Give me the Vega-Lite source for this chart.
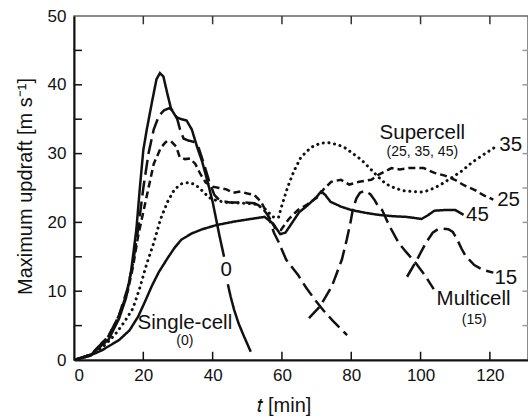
{
  "$schema": "https://vega.github.io/schema/vega-lite/v6.json",
  "width": 454,
  "height": 344,
  "autosize": {"type": "none"},
  "padding": {"left": 74, "top": 16, "right": 0, "bottom": 59},
  "background": "white",
  "config": {
    "view": {"stroke": "#666", "strokeWidth": 1.5},
    "font": "Liberation Sans",
    "axis": {"labelFont": "Liberation Sans", "titleFont": "Liberation Sans", "labelColor": "#111", "titleColor": "#111", "grid": false, "ticks": false, "domainColor": "#111"}
  },
  "datasets": {
    "curves": [
      {"series":"0","seg":"0a","t":0,"v":0},{"series":"0","seg":"0a","t":5,"v":0.8},{"series":"0","seg":"0a","t":10,"v":3},{"series":"0","seg":"0a","t":13,"v":6},{"series":"0","seg":"0a","t":15,"v":9},{"series":"0","seg":"0a","t":16.5,"v":13},{"series":"0","seg":"0a","t":18,"v":19},{"series":"0","seg":"0a","t":19,"v":25},{"series":"0","seg":"0a","t":20,"v":30.5},{"series":"0","seg":"0a","t":21,"v":33.5},{"series":"0","seg":"0a","t":22.5,"v":37.5},{"series":"0","seg":"0a","t":23.8,"v":40.8},{"series":"0","seg":"0a","t":24.8,"v":41.7},{"series":"0","seg":"0a","t":25.8,"v":41.2},{"series":"0","seg":"0a","t":26.8,"v":39},{"series":"0","seg":"0a","t":28,"v":36.5},{"series":"0","seg":"0a","t":29.5,"v":35.3},{"series":"0","seg":"0a","t":31,"v":35},{"series":"0","seg":"0a","t":32.5,"v":34.8},{"series":"0","seg":"0a","t":34,"v":33.5},{"series":"0","seg":"0a","t":35.5,"v":31},{"series":"0","seg":"0a","t":37,"v":28.8},{"series":"0","seg":"0a","t":38.5,"v":26},{"series":"0","seg":"0a","t":40,"v":23},{"series":"0","seg":"0a","t":40.8,"v":21},{"series":"0","seg":"0a","t":42,"v":18},{"series":"0","seg":"0a","t":43.3,"v":15},
      {"series":"0","seg":"0b","t":44.4,"v":11},{"series":"0","seg":"0b","t":45.2,"v":9.2},{"series":"0","seg":"0b","t":46.2,"v":7.3},{"series":"0","seg":"0b","t":47.5,"v":5.3},{"series":"0","seg":"0b","t":49,"v":3.5},{"series":"0","seg":"0b","t":51,"v":1.2},
      {"series":"15","seg":"15a","t":0,"v":0},{"series":"15","seg":"15a","t":5,"v":0.8},{"series":"15","seg":"15a","t":10,"v":3.5},{"series":"15","seg":"15a","t":13,"v":6.5},{"series":"15","seg":"15a","t":15.5,"v":10.5},{"series":"15","seg":"15a","t":17,"v":14},{"series":"15","seg":"15a","t":18.5,"v":19},{"series":"15","seg":"15a","t":20,"v":25},{"series":"15","seg":"15a","t":21.5,"v":30},{"series":"15","seg":"15a","t":23,"v":33.5},{"series":"15","seg":"15a","t":24.5,"v":35.5},{"series":"15","seg":"15a","t":26,"v":36.3},{"series":"15","seg":"15a","t":27.5,"v":36.6},{"series":"15","seg":"15a","t":28.8,"v":36.2},{"series":"15","seg":"15a","t":29.8,"v":35},{"series":"15","seg":"15a","t":30.6,"v":33.5},{"series":"15","seg":"15a","t":31.6,"v":32.2},{"series":"15","seg":"15a","t":33,"v":31.9},{"series":"15","seg":"15a","t":34.5,"v":31.7},{"series":"15","seg":"15a","t":36,"v":30.8},{"series":"15","seg":"15a","t":37.5,"v":28.5},{"series":"15","seg":"15a","t":39,"v":26},{"series":"15","seg":"15a","t":40.5,"v":24},{"series":"15","seg":"15a","t":42,"v":23.2},{"series":"15","seg":"15a","t":45,"v":22.9},{"series":"15","seg":"15a","t":49,"v":22.9},{"series":"15","seg":"15a","t":52,"v":22.8},{"series":"15","seg":"15a","t":54,"v":22.3},{"series":"15","seg":"15a","t":56,"v":21},{"series":"15","seg":"15a","t":57.7,"v":18.5},{"series":"15","seg":"15a","t":59,"v":17.2},{"series":"15","seg":"15a","t":61.2,"v":14.6},{"series":"15","seg":"15a","t":64.6,"v":12.4},{"series":"15","seg":"15a","t":67,"v":10.5},{"series":"15","seg":"15a","t":69.6,"v":8.7},{"series":"15","seg":"15a","t":72,"v":7.2},{"series":"15","seg":"15a","t":74.5,"v":5.8},{"series":"15","seg":"15a","t":78.8,"v":3.6},
      {"series":"15","seg":"15b","t":67.8,"v":6.1},{"series":"15","seg":"15b","t":71,"v":7.8},{"series":"15","seg":"15b","t":74.4,"v":10.7},{"series":"15","seg":"15b","t":77.3,"v":14.6},{"series":"15","seg":"15b","t":78.7,"v":17.5},{"series":"15","seg":"15b","t":79.7,"v":19.8},{"series":"15","seg":"15b","t":80.5,"v":22},{"series":"15","seg":"15b","t":81.5,"v":23.5},{"series":"15","seg":"15b","t":82.5,"v":24.3},{"series":"15","seg":"15b","t":83.9,"v":24.6},{"series":"15","seg":"15b","t":85.5,"v":24.1},{"series":"15","seg":"15b","t":86.8,"v":23.2},{"series":"15","seg":"15b","t":87.8,"v":22.3},{"series":"15","seg":"15b","t":88.9,"v":21.8},{"series":"15","seg":"15b","t":91,"v":19.5},{"series":"15","seg":"15b","t":93.7,"v":17},{"series":"15","seg":"15b","t":96,"v":15.6},{"series":"15","seg":"15b","t":98.6,"v":14.1},{"series":"15","seg":"15b","t":101,"v":12.5},{"series":"15","seg":"15b","t":103.8,"v":10.3},
      {"series":"15","seg":"15c","t":96.1,"v":12.1},{"series":"15","seg":"15c","t":97.5,"v":13.3},{"series":"15","seg":"15c","t":99.4,"v":15},{"series":"15","seg":"15c","t":101.5,"v":17},{"series":"15","seg":"15c","t":103.5,"v":18.5},{"series":"15","seg":"15c","t":105,"v":19},{"series":"15","seg":"15c","t":106.5,"v":19.1},{"series":"15","seg":"15c","t":108,"v":19},{"series":"15","seg":"15c","t":109.3,"v":18.6},{"series":"15","seg":"15c","t":110.5,"v":17.6},{"series":"15","seg":"15c","t":111.8,"v":16.2},{"series":"15","seg":"15c","t":113,"v":15.1},{"series":"15","seg":"15c","t":115.5,"v":13.8},{"series":"15","seg":"15c","t":118,"v":13.1},{"series":"15","seg":"15c","t":121,"v":12.7},
      {"series":"25","seg":"25","t":0,"v":0},{"series":"25","seg":"25","t":5,"v":0.8},{"series":"25","seg":"25","t":10,"v":3.5},{"series":"25","seg":"25","t":13,"v":6.5},{"series":"25","seg":"25","t":15.5,"v":10},{"series":"25","seg":"25","t":17,"v":13.5},{"series":"25","seg":"25","t":18.5,"v":18},{"series":"25","seg":"25","t":20,"v":21.5},{"series":"25","seg":"25","t":21.5,"v":25},{"series":"25","seg":"25","t":23,"v":28.5},{"series":"25","seg":"25","t":25,"v":30.8},{"series":"25","seg":"25","t":26.5,"v":31.7},{"series":"25","seg":"25","t":28,"v":31.8},{"series":"25","seg":"25","t":29.5,"v":31},{"series":"25","seg":"25","t":30.5,"v":29.5},{"series":"25","seg":"25","t":32,"v":29.2},{"series":"25","seg":"25","t":33.5,"v":29.3},{"series":"25","seg":"25","t":35,"v":28.5},{"series":"25","seg":"25","t":36.5,"v":27},{"series":"25","seg":"25","t":38,"v":25.8},{"series":"25","seg":"25","t":40,"v":25.2},{"series":"25","seg":"25","t":42,"v":25},{"series":"25","seg":"25","t":44,"v":24.8},{"series":"25","seg":"25","t":46,"v":24.3},{"series":"25","seg":"25","t":48,"v":24.5},{"series":"25","seg":"25","t":50,"v":24.2},{"series":"25","seg":"25","t":52,"v":24},{"series":"25","seg":"25","t":54,"v":23},{"series":"25","seg":"25","t":56,"v":21},{"series":"25","seg":"25","t":58,"v":19.2},{"series":"25","seg":"25","t":59.7,"v":18.9},{"series":"25","seg":"25","t":62,"v":20.5},{"series":"25","seg":"25","t":64.6,"v":21.8},{"series":"25","seg":"25","t":67,"v":22.5},{"series":"25","seg":"25","t":70.4,"v":23.7},{"series":"25","seg":"25","t":72,"v":24.8},{"series":"25","seg":"25","t":74.2,"v":25.9},{"series":"25","seg":"25","t":77,"v":26.2},{"series":"25","seg":"25","t":79.4,"v":25.5},{"series":"25","seg":"25","t":82.3,"v":25.9},{"series":"25","seg":"25","t":85.8,"v":26.2},{"series":"25","seg":"25","t":87.8,"v":26.9},{"series":"25","seg":"25","t":91.6,"v":27.9},{"series":"25","seg":"25","t":94,"v":27.7},{"series":"25","seg":"25","t":96.5,"v":27.9},{"series":"25","seg":"25","t":100.9,"v":27.9},{"series":"25","seg":"25","t":104,"v":27.2},{"series":"25","seg":"25","t":107,"v":26.8},{"series":"25","seg":"25","t":109.9,"v":26.2},{"series":"25","seg":"25","t":112.5,"v":25.4},{"series":"25","seg":"25","t":115.7,"v":24.7},{"series":"25","seg":"25","t":118,"v":24},{"series":"25","seg":"25","t":121,"v":23.3},
      {"series":"35","seg":"35","t":0,"v":0},{"series":"35","seg":"35","t":5,"v":0.7},{"series":"35","seg":"35","t":9,"v":2.2},{"series":"35","seg":"35","t":12,"v":3.8},{"series":"35","seg":"35","t":14.5,"v":5.5},{"series":"35","seg":"35","t":17,"v":7.5},{"series":"35","seg":"35","t":19,"v":10.5},{"series":"35","seg":"35","t":21,"v":14},{"series":"35","seg":"35","t":23,"v":17},{"series":"35","seg":"35","t":25,"v":20.5},{"series":"35","seg":"35","t":27,"v":23},{"series":"35","seg":"35","t":29,"v":24.8},{"series":"35","seg":"35","t":31,"v":25.6},{"series":"35","seg":"35","t":33,"v":25.8},{"series":"35","seg":"35","t":35,"v":25.5},{"series":"35","seg":"35","t":37,"v":24.6},{"series":"35","seg":"35","t":39,"v":23.6},{"series":"35","seg":"35","t":41,"v":23.2},{"series":"35","seg":"35","t":44,"v":22.9},{"series":"35","seg":"35","t":48,"v":22.8},{"series":"35","seg":"35","t":52,"v":22.7},{"series":"35","seg":"35","t":55,"v":22},{"series":"35","seg":"35","t":57.5,"v":20.8},{"series":"35","seg":"35","t":59,"v":20.7},{"series":"35","seg":"35","t":60,"v":22.5},{"series":"35","seg":"35","t":61.7,"v":25.2},{"series":"35","seg":"35","t":63.5,"v":27.5},{"series":"35","seg":"35","t":65.5,"v":29.5},{"series":"35","seg":"35","t":68.4,"v":30.9},{"series":"35","seg":"35","t":71,"v":31.5},{"series":"35","seg":"35","t":73.3,"v":31.6},{"series":"35","seg":"35","t":76,"v":31.3},{"series":"35","seg":"35","t":78,"v":30.9},{"series":"35","seg":"35","t":80.5,"v":30},{"series":"35","seg":"35","t":82.9,"v":29.1},{"series":"35","seg":"35","t":85.5,"v":27.8},{"series":"35","seg":"35","t":87.8,"v":26.6},{"series":"35","seg":"35","t":90,"v":25.6},{"series":"35","seg":"35","t":92.5,"v":25},{"series":"35","seg":"35","t":95,"v":24.6},{"series":"35","seg":"35","t":97.4,"v":24.5},{"series":"35","seg":"35","t":100,"v":24.4},{"series":"35","seg":"35","t":102,"v":24.6},{"series":"35","seg":"35","t":104,"v":25},{"series":"35","seg":"35","t":106.5,"v":25.7},{"series":"35","seg":"35","t":109,"v":26.5},{"series":"35","seg":"35","t":112,"v":27.5},{"series":"35","seg":"35","t":114.8,"v":28.7},{"series":"35","seg":"35","t":118,"v":29.8},{"series":"35","seg":"35","t":121.4,"v":30.9},
      {"series":"45","seg":"45","t":0,"v":0},{"series":"45","seg":"45","t":4,"v":0.5},{"series":"45","seg":"45","t":8,"v":1.4},{"series":"45","seg":"45","t":13,"v":2.9},{"series":"45","seg":"45","t":16,"v":4.3},{"series":"45","seg":"45","t":18.5,"v":6.3},{"series":"45","seg":"45","t":20.5,"v":8.5},{"series":"45","seg":"45","t":22.5,"v":10.8},{"series":"45","seg":"45","t":24.5,"v":12.8},{"series":"45","seg":"45","t":27,"v":14.8},{"series":"45","seg":"45","t":29,"v":16.3},{"series":"45","seg":"45","t":31,"v":17.5},{"series":"45","seg":"45","t":34,"v":18.4},{"series":"45","seg":"45","t":37,"v":19},{"series":"45","seg":"45","t":41,"v":19.6},{"series":"45","seg":"45","t":46,"v":20.1},{"series":"45","seg":"45","t":51,"v":20.5},{"series":"45","seg":"45","t":55,"v":20.8},{"series":"45","seg":"45","t":57.5,"v":19.8},{"series":"45","seg":"45","t":59.5,"v":18.3},{"series":"45","seg":"45","t":61,"v":18.5},{"series":"45","seg":"45","t":63,"v":20},{"series":"45","seg":"45","t":65,"v":21.5},{"series":"45","seg":"45","t":67,"v":22.3},{"series":"45","seg":"45","t":68.5,"v":23},{"series":"45","seg":"45","t":70,"v":23.7},{"series":"45","seg":"45","t":71.3,"v":24.5},{"series":"45","seg":"45","t":72.5,"v":24},{"series":"45","seg":"45","t":74,"v":23},{"series":"45","seg":"45","t":77,"v":22.3},{"series":"45","seg":"45","t":80,"v":21.8},{"series":"45","seg":"45","t":84,"v":21.4},{"series":"45","seg":"45","t":87.8,"v":21.1},{"series":"45","seg":"45","t":92,"v":20.9},{"series":"45","seg":"45","t":96,"v":20.8},{"series":"45","seg":"45","t":100.3,"v":20.5},{"series":"45","seg":"45","t":102,"v":21},{"series":"45","seg":"45","t":104,"v":21.7},{"series":"45","seg":"45","t":107,"v":21.8},{"series":"45","seg":"45","t":110,"v":21.8},{"series":"45","seg":"45","t":112.4,"v":21.1}
    ],
    "bigLabels": [
      {"t":43.9,"v":13.1,"text":"0"},
      {"t":32,"v":5.4,"text":"Single-cell"},
      {"t":100.5,"v":33,"text":"Supercell"},
      {"t":126,"v":31.2,"text":"35"},
      {"t":125.4,"v":23.3,"text":"25"},
      {"t":116.4,"v":21.1,"text":"45"},
      {"t":124.6,"v":11.9,"text":"15"},
      {"t":115.3,"v":8.8,"text":"Multicell"}
    ],
    "smallLabels": [
      {"t":32,"v":2.7,"text":"(0)"},
      {"t":100.5,"v":30.2,"text":"(25, 35, 45)"},
      {"t":115.5,"v":5.8,"text":"(15)"}
    ],
    "xTicks": [{"t":20},{"t":40},{"t":60},{"t":80},{"t":100},{"t":120}],
    "yTicks": [{"v":5},{"v":10},{"v":15},{"v":20},{"v":25},{"v":30},{"v":35},{"v":40},{"v":45}]
  },
  "layer": [
    {
      "data": {"name": "curves"},
      "transform": [{"filter": "datum.series !== '35'"}],
      "mark": {"type": "line", "color": "#111", "strokeWidth": 2.5, "clip": true},
      "encoding": {
        "x": {"field": "t", "type": "quantitative", "scale": {"domain": [0, 131], "nice": false},
          "axis": {"orient": "bottom", "values": [0,20,40,60,80,100,120], "ticks": false, "domain": true, "domainWidth": 2, "labelFontSize": 17, "labelPadding": 7, "title": "𝑡 [min]", "titleFontSize": 20, "titleFontWeight": "normal", "titleAnchor": "start", "titleX": 182, "titleY": 51, "titleBaseline": "alphabetic"}},
        "y": {"field": "v", "type": "quantitative", "scale": {"domain": [0, 50], "nice": false},
          "axis": {"orient": "left", "values": [0,10,20,30,40,50], "ticks": false, "domain": true, "domainWidth": 2, "labelFontSize": 17, "labelPadding": 8, "title": "Maximum updraft [m s⁻¹]", "titleFontSize": 20, "titleFontWeight": "normal", "titleAngle": -90, "titleAnchor": "middle", "titleX": -49, "titleY": 170, "titleAlign": "center", "titleBaseline": "middle"}},
        "detail": {"field": "seg"},
        "strokeDash": {"field": "series", "type": "nominal", "scale": {"domain": ["0","15","25","45"], "range": [[1,0],[15,6],[7,4],[1,0]]}, "legend": null}
      }
    },
    {
      "data": {"name": "curves"},
      "transform": [{"filter": "datum.series === '35'"}],
      "mark": {"type": "line", "color": "#111", "strokeWidth": 3, "strokeDash": [0.1, 5.6], "strokeCap": "round", "clip": true},
      "encoding": {
        "x": {"field": "t", "type": "quantitative", "axis": null},
        "y": {"field": "v", "type": "quantitative", "axis": null},
        "detail": {"field": "seg"}
      }
    },
    {
      "data": {"name": "xTicks"},
      "mark": {"type": "rule", "color": "#111", "strokeWidth": 1.5},
      "encoding": {
        "x": {"field": "t", "type": "quantitative", "axis": null},
        "y": {"datum": 0, "type": "quantitative", "axis": null},
        "y2": {"datum": 1.2}
      }
    },
    {
      "data": {"name": "xTicks"},
      "mark": {"type": "rule", "color": "#333", "strokeWidth": 1.5},
      "encoding": {
        "x": {"field": "t", "type": "quantitative", "axis": null},
        "y": {"datum": 48.8, "type": "quantitative", "axis": null},
        "y2": {"datum": 50}
      }
    },
    {
      "data": {"name": "yTicks"},
      "mark": {"type": "rule", "color": "#111", "strokeWidth": 1.5},
      "encoding": {
        "y": {"field": "v", "type": "quantitative", "axis": null},
        "x": {"datum": 0, "type": "quantitative", "axis": null},
        "x2": {"datum": 2.3}
      }
    },
    {
      "data": {"name": "yTicks"},
      "mark": {"type": "rule", "color": "#999", "strokeWidth": 1.5},
      "encoding": {
        "y": {"field": "v", "type": "quantitative", "axis": null},
        "x": {"datum": 129.4, "type": "quantitative", "axis": null},
        "x2": {"datum": 131}
      }
    },
    {
      "data": {"name": "bigLabels"},
      "mark": {"type": "text", "font": "Liberation Sans", "fontSize": 20.5, "color": "#111", "align": "center", "baseline": "middle"},
      "encoding": {
        "x": {"field": "t", "type": "quantitative", "axis": null},
        "y": {"field": "v", "type": "quantitative", "axis": null},
        "text": {"field": "text"}
      }
    },
    {
      "data": {"name": "smallLabels"},
      "mark": {"type": "text", "font": "Liberation Sans", "fontSize": 14, "color": "#111", "align": "center", "baseline": "middle"},
      "encoding": {
        "x": {"field": "t", "type": "quantitative", "axis": null},
        "y": {"field": "v", "type": "quantitative", "axis": null},
        "text": {"field": "text"}
      }
    }
  ],
  "resolve": {"axis": {"x": "independent", "y": "independent"}}
}
